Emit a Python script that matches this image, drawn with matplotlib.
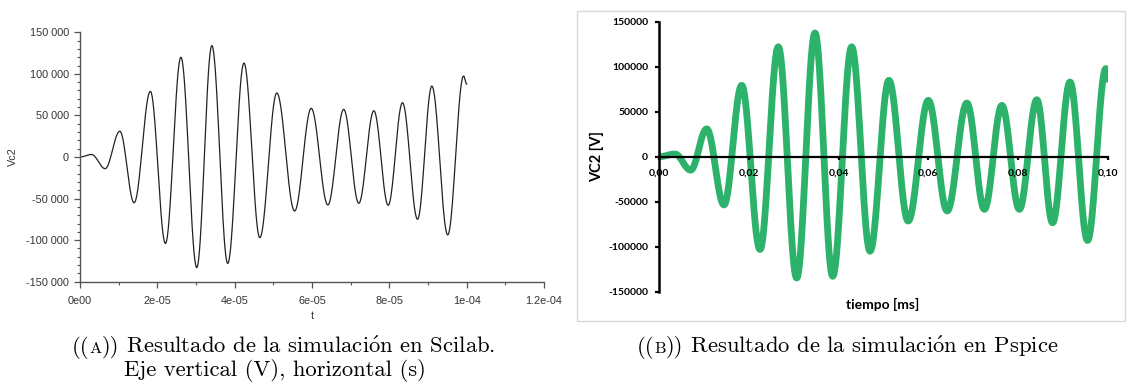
import numpy as np
import matplotlib.pyplot as plt
from matplotlib.patches import Rectangle
from matplotlib.ticker import FuncFormatter, MultipleLocator

plt.rcParams["mathtext.fontset"] = "cm"

# Extrema (time in s, Vc2 in V)
scilab_t = [0, 3.0e-6, 6.5e-6, 1.03e-5, 1.40e-5, 1.82e-5, 2.21e-5, 2.61e-5, 3.02e-5,
            3.41e-5, 3.82e-5, 4.24e-5, 4.65e-5, 5.09e-5, 5.55e-5, 5.98e-5, 6.41e-5,
            6.82e-5, 7.21e-5, 7.60e-5, 7.97e-5, 8.34e-5, 8.73e-5, 9.10e-5, 9.51e-5,
            9.92e-5, 1.0e-4]
scilab_v = [0, 3000, -14000, 31000, -55000, 79000, -104000, 120000, -133000,
            134000, -128000, 113000, -97000, 77000, -65000, 58500, -57700,
            57300, -55700, 55600, -58000, 65300, -74900, 85300, -93700,
            97400, 87700]

# Extrema (time in ms, VC2 in V)
pspice_t = [0, 0.0035, 0.0070, 0.01057, 0.01443, 0.01838, 0.02246, 0.02654, 0.03064,
            0.03472, 0.03867, 0.0429, 0.0470, 0.0512, 0.0555, 0.0600, 0.0642,
            0.0686, 0.0725, 0.0764, 0.0803, 0.0842, 0.0877, 0.0916, 0.0955,
            0.0996, 0.1000]
pspice_v = [0, 3000, -14900, 30900, -53600, 79300, -103100, 122100, -134800,
            137500, -132900, 122100, -105000, 84900, -71500, 62600, -60300,
            59600, -58500, 57000, -58500, 63300, -73400, 83000, -93100,
            98000, 86000]

scilab_xlabels = ["0e00", "2e-05", "4e-05", "6e-05", "8e-05", "1e-04", "1.2e-04"]
pspice_xlabels = ["0,00", "0,02", "0,04", "0,06", "0,08", "0,10"]


def smooth(tk, vk, n=40):
    # join successive extrema with half-cosine arcs
    xs, ys = [], []
    for i in range(len(tk) - 1):
        s = np.linspace(0, 1, n, endpoint=False)
        w = (1 - np.cos(np.pi * s)) / 2
        xs.append(tk[i] + (tk[i + 1] - tk[i]) * s)
        ys.append(vk[i] + (vk[i + 1] - vk[i]) * w)
    xs.append([tk[-1]])
    ys.append([vk[-1]])
    return np.concatenate(xs), np.concatenate(ys)


fig = plt.figure(figsize=(11.28, 3.92), dpi=100)
W, H = 1128, 392

def fx(px):
    return px / W

def fy(py):
    return 1 - py / H

# ---- (A) Scilab ----
ax1 = fig.add_axes([fx(80), fy(281.7), (544 - 80) / W, (281.7 - 32.3) / H])
x1, y1 = smooth(scilab_t, scilab_v)
ax1.plot(x1, y1, color="#222222", lw=0.9)
ax1.set_xlim(0, 1.2e-4)
ax1.set_ylim(-150000, 150000)
ax1.set_xticks(np.arange(len(scilab_xlabels)) * 2e-5)
ax1.set_xticklabels(scilab_xlabels)
ax1.xaxis.set_minor_locator(MultipleLocator(1e-5))
ax1.yaxis.set_major_locator(MultipleLocator(50000))
ax1.yaxis.set_minor_locator(MultipleLocator(10000))
ax1.yaxis.set_major_formatter(FuncFormatter(lambda v, p: f"{int(v):,}".replace(",", " ")))
for s in ["top", "right"]:
    ax1.spines[s].set_visible(False)
for s in ["left", "bottom"]:
    ax1.spines[s].set_color("#555555")
    ax1.spines[s].set_linewidth(1.0)
ax1.tick_params(which="major", length=4, width=0.9, color="#555555",
                labelsize=7.8, labelcolor="#333333")
ax1.tick_params(axis="x", which="major", pad=6)
ax1.tick_params(axis="y", which="major", pad=4)
ax1.tick_params(which="minor", length=2.5, width=0.8, color="#555555")
for lab in ax1.get_xticklabels() + ax1.get_yticklabels():
    lab.set_family("Liberation Sans")
fig.text(fx(13), fy(157), "Vc2", rotation=90, ha="center", va="center",
         fontsize=7.8, color="#333333", family="Liberation Sans")
fig.text(fx(312), fy(316), "t", ha="center", va="center",
         fontsize=7.8, color="#333333", family="Liberation Sans")

# ---- (B) Pspice ----
fig.patches.append(Rectangle((fx(577), fy(321)), (1125 - 577) / W, (321 - 11) / H,
                             transform=fig.transFigure, fill=False,
                             edgecolor="#d9d9d9", lw=1))
ax2 = fig.add_axes([fx(659.3), fy(291.7), (1107.7 - 659.3) / W, (291.7 - 21.7) / H])
x2, y2 = smooth(pspice_t, pspice_v)
ax2.plot(x2, y2, color="#2cb26a", lw=4.9, solid_capstyle="round", zorder=2)
ax2.set_axisbelow(False)
ax2.set_xlim(0, 0.1)
ax2.set_ylim(-150000, 150000)
ax2.set_xticks(np.arange(len(pspice_xlabels)) * 0.02)
ax2.set_xticklabels(pspice_xlabels)
ax2.yaxis.set_major_locator(MultipleLocator(50000))
ax2.yaxis.set_major_formatter(FuncFormatter(lambda v, p: f"{int(v)}"))
for s in ["top", "right"]:
    ax2.spines[s].set_visible(False)
ax2.spines["bottom"].set_position(("data", 0))
ax2.spines["bottom"].set_linewidth(1.6)
ax2.spines["left"].set_linewidth(1.8)
ax2.spines["bottom"].set_zorder(3)
ax2.tick_params(axis="y", length=3, width=1.6, labelsize=7.5, pad=5)
ax2.tick_params(axis="x", length=2.5, width=1.6, labelsize=7.5, pad=6)
for lab in ax2.get_xticklabels() + ax2.get_yticklabels():
    lab.set_family("Lato")
    lab.set_fontweight("bold")
fig.text(fx(597), fy(157), "VC2 [V]", rotation=90, ha="center", va="center",
         fontsize=10.5, fontweight="bold", family="Lato")
fig.text(fx(883), fy(304), "tiempo [ms]", ha="center", va="center",
         fontsize=10, fontweight="bold", family="Lato")

# ---- captions ----
serif = ["cmr10", "DejaVu Serif"]
fs = 16.3
renderer = fig.canvas.get_renderer()


def caption(cx, py, parts):
    # lay the pieces out left to right, then centre the whole line on cx
    texts, x = [], 0.0
    for txt, size in parts:
        t = fig.text(x, fy(py), txt, fontsize=size, family=serif, va="baseline")
        bb = t.get_window_extent(renderer)
        texts.append((t, x))
        x += bb.width / W
    start = fx(cx) - x / 2
    for t, off in texts:
        t.set_x(start + off)


acc = r"simulaci$\acute{\mathrm{o}}$n"
caption(284, 353, [("((", fs), ("A", fs * 0.72), ("))", fs),
                   (" Resultado de la " + acc + " en Scilab.", fs)])
caption(274.5, 376, [("Eje vertical (V), horizontal (s)", fs)])
caption(847.5, 353, [("((", fs), ("B", fs * 0.72), ("))", fs),
                     (" Resultado de la " + acc + " en Pspice", fs)])

fig.savefig("out.png", dpi=100, facecolor="white")
